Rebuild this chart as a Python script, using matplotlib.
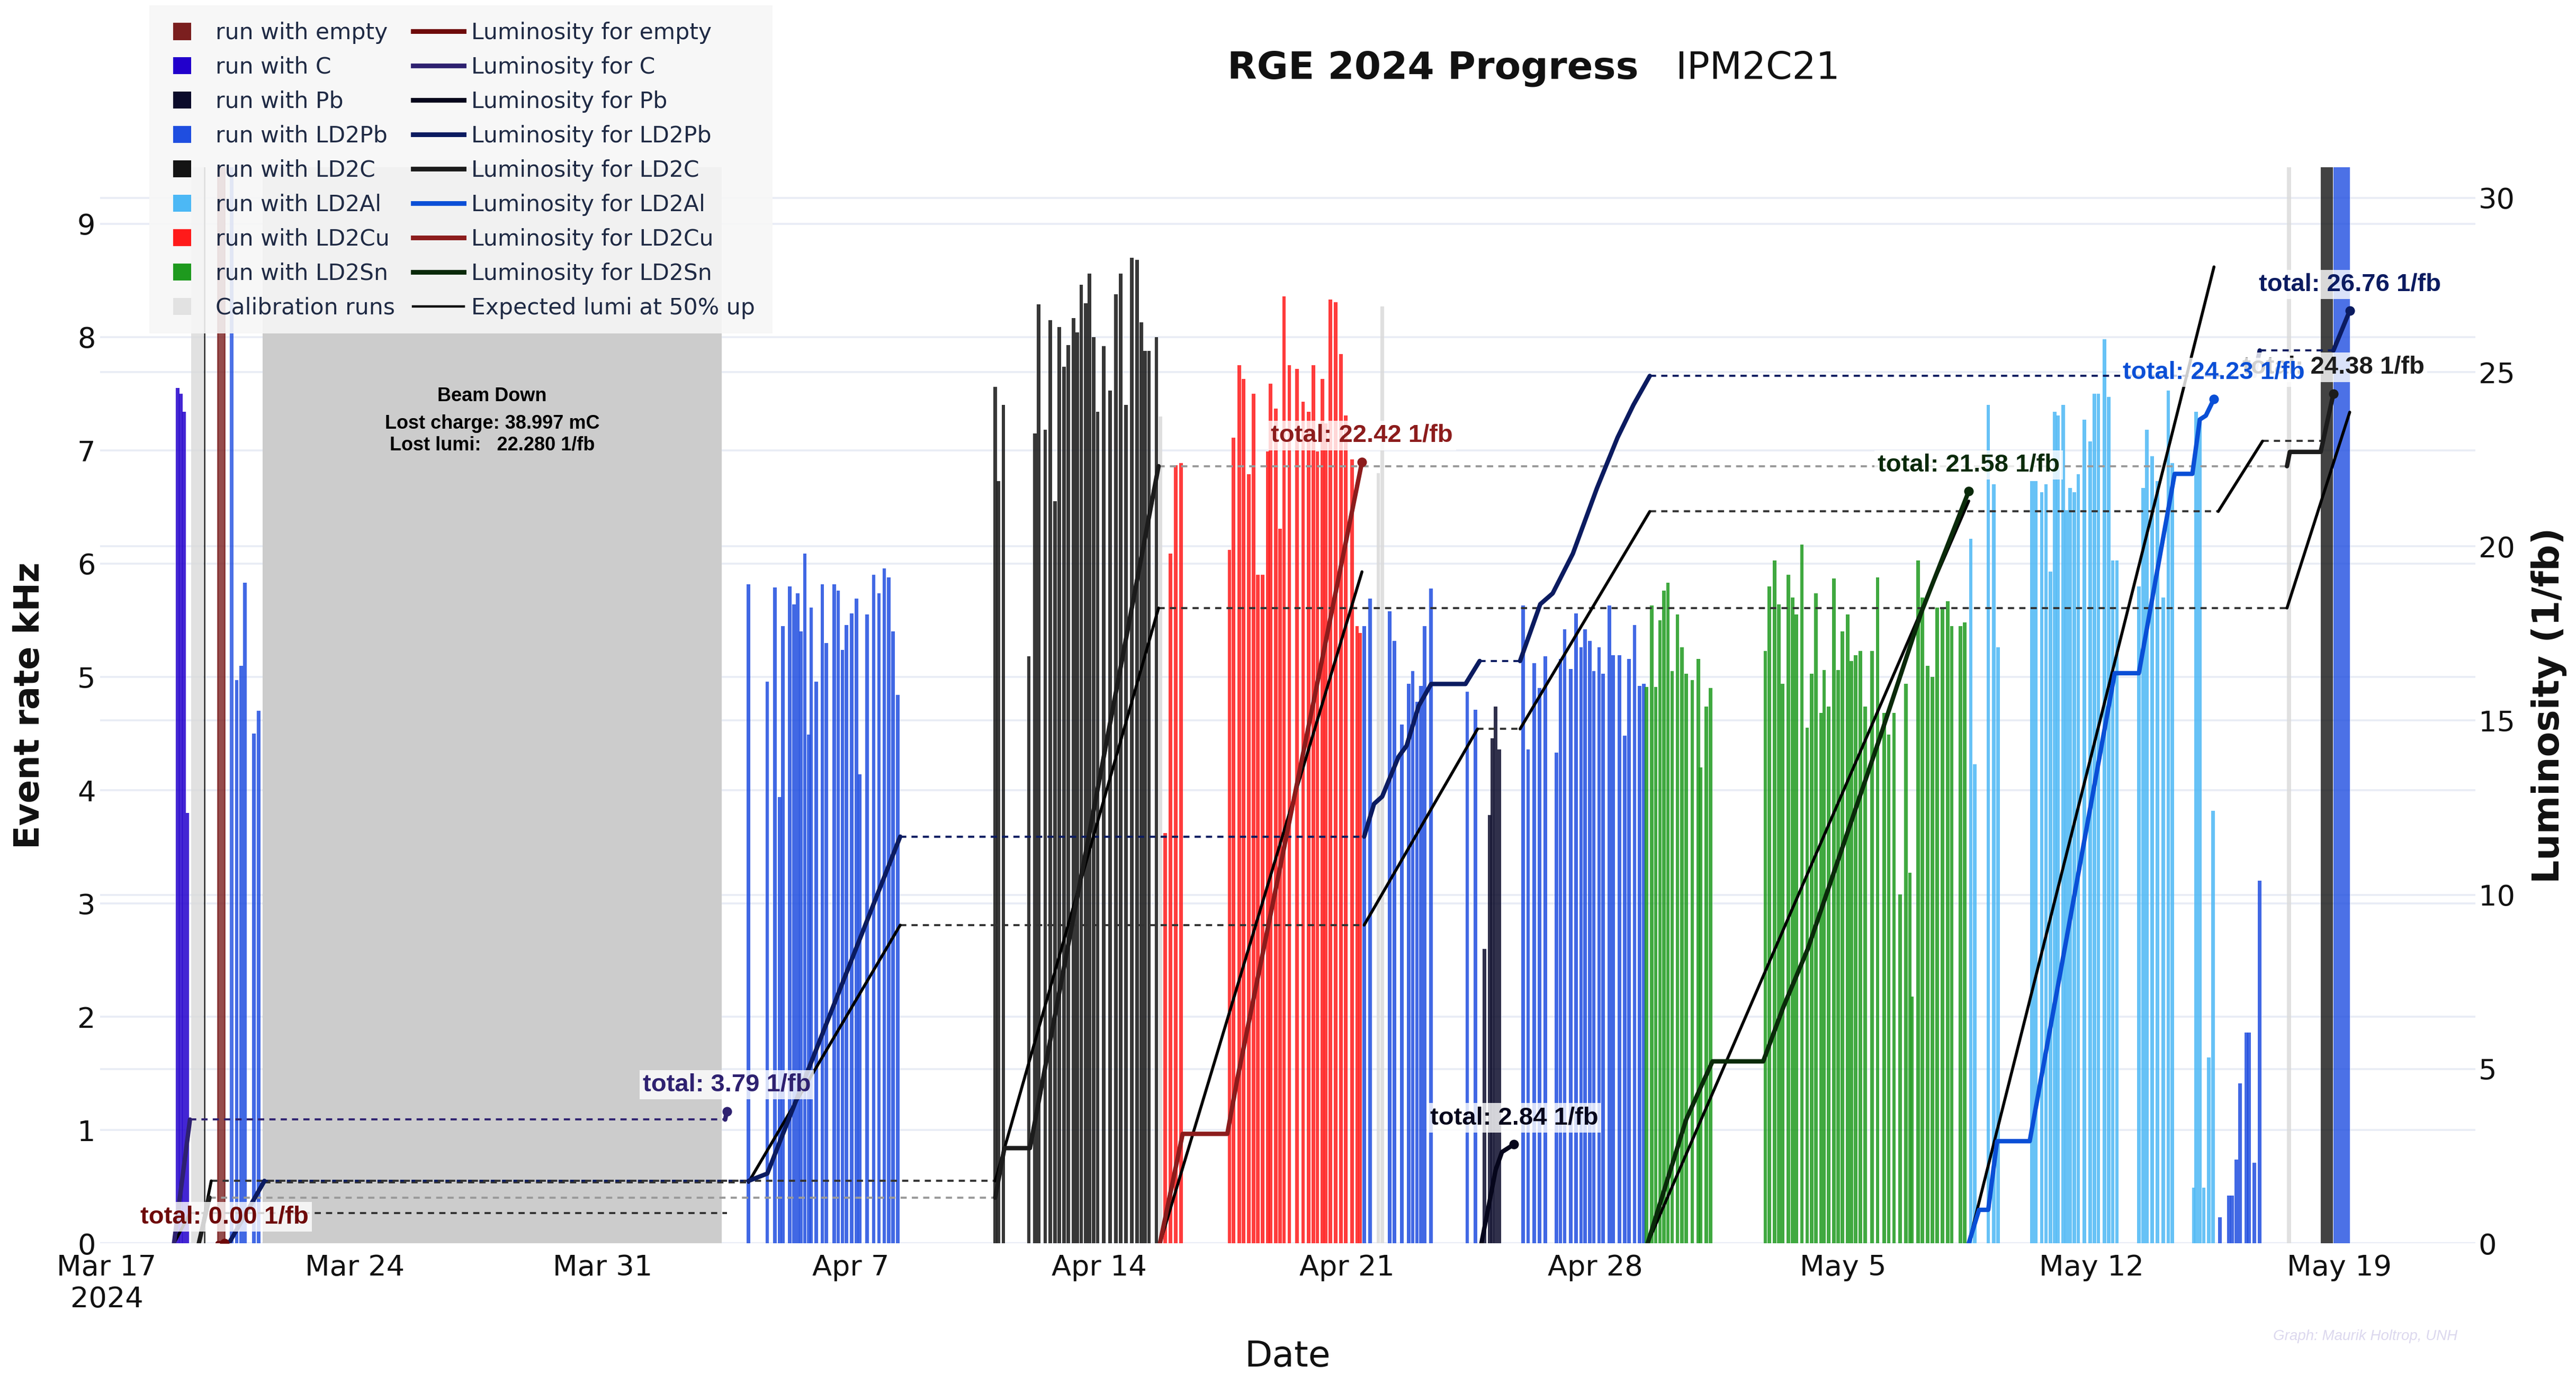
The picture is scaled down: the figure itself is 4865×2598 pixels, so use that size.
# -*- coding: utf-8 -*-
import numpy as np
import matplotlib
matplotlib.use("Agg")
import matplotlib.pyplot as plt
import matplotlib.dates as mdates
import matplotlib.transforms as mtransforms
from matplotlib.patches import Patch, Rectangle
from matplotlib.lines import Line2D
from matplotlib.ticker import FuncFormatter

# days are counted from the start of the run period
START = np.datetime64("2024-03-17")
X_RANGE = (-0.19, 66.84)
RATE_MAX = 9.5
LUMI_MAX = 30.88

BEAM_DOWN = (4.40, 17.35)
LOST_CHARGE = 38.997
LOST_LUMI = 22.280

# ---- runs: start day and event rate (kHz) ----
C_DAY = [2.00, 2.09, 2.18, 2.28]
C_RATE = [7.55, 7.50, 7.34, 3.80]

PB_DAY = [38.88, 39.02, 39.10, 39.19, 39.29]
PB_RATE = [2.60, 3.78, 4.46, 4.74, 4.36]

LD2PB_DAY = [3.67, 3.79, 3.90, 4.15, 4.29,
             18.11, 18.64, 18.85, 18.99, 19.08, 19.27, 19.39, 19.50, 19.59, 19.70,
             19.81, 19.88, 20.02, 20.19, 20.30, 20.53, 20.64, 20.76, 20.87, 21.02,
             21.16, 21.25, 21.45, 21.64, 21.79, 21.94, 22.07, 22.19, 22.32,
             35.48, 35.65, 36.20, 36.34, 36.54, 36.74, 36.85, 36.97, 37.08, 37.19,
             37.37, 38.39, 38.62, 39.97, 40.11, 40.28, 40.43, 40.59, 40.91, 41.02,
             41.14, 41.31, 41.46, 41.60, 41.71, 41.85, 41.96, 42.11, 42.22, 42.40,
             42.51, 42.68, 42.83, 42.95, 43.11, 43.25, 43.37,
             59.63, 59.88, 59.97, 60.09, 60.20, 60.37, 60.45, 60.60, 60.75]
LD2PB_RATE = [4.97, 5.10, 5.83, 4.50, 4.70,
              5.82, 4.96, 5.79, 3.94, 5.45, 5.80, 5.64, 5.74, 5.40, 6.09,
              4.49, 5.61, 4.96, 5.82, 5.30, 5.82, 5.76, 5.24, 5.46, 5.56,
              5.69, 4.14, 5.55, 5.90, 5.74, 5.96, 5.88, 5.40, 4.84,
              5.45, 5.69, 5.58, 5.32, 4.58, 4.94, 5.05, 4.78, 4.92, 5.45,
              5.78, 4.87, 4.71, 5.63, 4.36, 5.12, 4.90, 5.18, 4.33, 5.16,
              5.42, 5.07, 5.56, 5.26, 5.42, 5.32, 5.05, 5.26, 5.03, 5.63,
              5.19, 5.19, 4.48, 5.16, 5.46, 4.92, 4.94,
              0.23, 0.42, 0.42, 0.74, 1.41, 1.86, 1.86, 0.71, 3.20]

LD2C_DAY = [25.07, 25.16, 25.30, 26.02, 26.19, 26.30, 26.48, 26.62, 26.76, 26.88,
            27.01, 27.13, 27.28, 27.39, 27.50, 27.62, 27.73, 27.85, 27.96, 28.13,
            28.31, 28.48, 28.61, 28.76, 28.93, 29.07, 29.19, 29.30, 29.41, 29.62]
LD2C_RATE = [7.56, 6.73, 7.40, 5.18, 7.15, 8.29, 7.18, 8.15, 6.55, 8.09,
             7.74, 7.93, 8.17, 8.04, 8.46, 8.30, 8.56, 8.00, 7.34, 7.92,
             7.53, 8.38, 8.56, 7.40, 8.70, 8.68, 8.13, 7.88, 7.88, 8.00]

LD2CU_DAY = [29.87, 30.02, 30.17, 30.31, 31.68, 31.79, 31.96, 32.08, 32.23, 32.36,
             32.48, 32.62, 32.76, 32.84, 32.99, 33.11, 33.22, 33.37, 33.59, 33.76,
             33.91, 34.05, 34.16, 34.30, 34.39, 34.53, 34.68, 34.83, 34.96, 35.14,
             35.28, 35.36]
LD2CU_RATE = [3.62, 6.09, 6.87, 6.89, 6.12, 7.11, 7.75, 7.63, 6.79, 7.50,
              5.90, 5.90, 6.99, 7.59, 7.37, 6.31, 8.36, 7.75, 7.72, 7.43,
              7.34, 7.75, 6.99, 7.63, 7.24, 8.33, 8.31, 7.85, 7.31, 6.92,
              5.45, 5.39]

LD2SN_DAY = [43.45, 43.60, 43.71, 43.83, 43.94, 44.05, 44.17, 44.32, 44.45, 44.57,
             44.74, 44.91, 44.97, 45.14, 45.25,
             46.80, 46.91, 47.06, 47.18, 47.29, 47.45, 47.57, 47.68, 47.83, 47.98,
             48.11, 48.23, 48.37, 48.46, 48.59, 48.74, 48.86, 48.97, 49.12, 49.23,
             49.35, 49.48, 49.62, 49.81, 49.97, 50.16, 50.28, 50.43, 50.60, 50.77,
             50.88, 50.94, 51.11, 51.23, 51.38, 51.51, 51.65, 51.80, 51.95, 52.06,
             52.31, 52.43]
LD2SN_RATE = [4.91, 5.63, 4.91, 5.50, 5.76, 5.83, 5.05, 5.55, 5.26, 5.03,
              4.97, 5.16, 4.20, 4.74, 4.90,
              5.23, 5.80, 6.03, 5.64, 4.94, 5.90, 5.70, 5.55, 6.17, 4.55,
              5.03, 5.74, 4.68, 5.06, 4.74, 5.87, 5.06, 5.40, 5.55, 5.14,
              5.19, 5.23, 4.74, 5.23, 5.88, 4.68, 4.49, 4.68, 3.08, 4.94,
              3.27, 2.18, 6.03, 5.70, 5.10, 5.00, 5.61, 5.61, 5.67, 5.45,
              5.45, 5.48]

LD2AL_DAY = [52.60, 52.71, 53.09, 53.25, 53.37, 54.32, 54.43, 54.60, 54.72, 54.85,
             54.97, 55.06, 55.20, 55.29, 55.40, 55.52, 55.63, 55.80, 55.97, 56.09,
             56.20, 56.37, 56.49, 56.60, 56.72, 57.34, 57.46, 57.57, 57.71, 57.86,
             58.03, 58.17, 58.28, 58.89, 58.95, 59.06, 59.17, 59.31, 59.43]
LD2AL_RATE = [6.22, 4.23, 7.40, 6.70, 5.26, 6.73, 6.73, 6.63, 6.70, 5.93,
              7.34, 7.31, 7.40, 6.47, 6.67, 6.63, 6.79, 7.27, 7.08, 7.50,
              7.50, 7.98, 7.47, 6.03, 6.03, 5.80, 6.67, 7.18, 6.95, 6.73,
              5.70, 7.53, 6.89, 0.49, 7.34, 7.27, 0.49, 1.64, 3.82]

CALIB_DAY = [29.73, 35.88, 35.99]
CALIB_RATE = [7.30, 6.80, 8.27]

# long runs whose rate runs off the top of the scale
LONG_TARGET = ["calib", "LD2C", "empty", "LD2Pb", "calib", "LD2C", "LD2Pb"]
LONG_START = [2.38, 2.74, 3.13, 3.47, 61.52, 62.47, 62.83]
LONG_END = [2.72, 2.78, 3.33, 3.58, 61.63, 62.81, 63.29]
LONG_RATE = [11.0, 11.0, 11.0, 11.0, 11.0, 11.0, 11.0]

# ---- integrated luminosity (1/fb), nan separates running periods ----
nan = np.nan
LUMI_EMPTY_DAY = [3.13, 3.33]
LUMI_EMPTY = [0.0, 0.0]

LUMI_C_DAY = [1.90, 2.05, 2.35, nan, 17.45, 17.50]
LUMI_C = [0.0, 1.20, 3.55, nan, 3.55, 3.79]
EXP_C_DAY = [1.90, 2.35, nan, 17.50]
EXP_C = [0.0, 0.87, nan, 0.87]

LUMI_PB_DAY = [38.79, 39.19, 39.37, 39.71]
LUMI_PB = [0.0, 2.10, 2.62, 2.84]

LUMI_LD2PB_DAY = [3.45, 4.45, nan, 18.11, 18.64, 22.39, nan,
                  35.48, 35.76, 35.99, 36.45, 36.68, 37.02, 37.37, 38.34, 38.74, nan,
                  39.88, 40.45, 40.80, 41.37, 42.05, 42.63, 43.08, 43.54, nan,
                  60.60, 60.75, nan, 62.83, 63.29]
LUMI_LD2PB = [0.0, 1.79, nan, 1.79, 2.00, 11.67, nan,
              11.67, 12.61, 12.82, 13.96, 14.28, 15.42, 16.05, 16.05, 16.71, nan,
              16.71, 18.34, 18.65, 19.79, 21.67, 23.12, 24.06, 24.89, nan,
              24.89, 25.62, nan, 25.62, 26.76]
EXP_LD2PB_DAY = [3.45, 4.45, nan, 18.11, 22.39, nan, 35.48, 38.68, nan,
                 39.88, 43.54, nan, 59.58, 60.83, nan, 62.59]
EXP_LD2PB = [0.0, 1.75, nan, 1.75, 9.13, nan, 9.13, 14.76, nan,
             14.76, 21.00, nan, 21.00, 23.02, nan, 23.02]

LUMI_LD2C_DAY = [2.60, 2.90, nan, 25.07, 25.33, 26.05, 29.68, nan,
                 61.52, 61.60, 62.47, 62.83]
LUMI_LD2C = [0.0, 1.31, nan, 1.31, 2.73, 2.73, 22.30, nan,
             22.30, 22.71, 22.71, 24.38]
EXP_LD2C_DAY = [2.60, 2.95, nan, 25.07, 29.68, nan, 61.52, 63.29]
EXP_LD2C = [0.0, 1.79, nan, 1.79, 18.23, nan, 18.23, 23.85]

LUMI_LD2CU_DAY = [29.72, 30.36, 31.62, 31.90, 35.42]
LUMI_LD2CU = [0.0, 3.14, 3.14, 4.70, 22.42]
EXP_LD2CU_DAY = [29.72, 35.42]
EXP_LD2CU = [0.0, 19.27]

LUMI_LD2SN_DAY = [43.48, 44.57, 45.31, 46.74, 47.31, 48.00, 50.03, 51.20, 52.54]
LUMI_LD2SN = [0.0, 3.56, 5.22, 5.22, 6.78, 8.45, 14.50, 18.10, 21.58]
EXP_LD2SN_DAY = [43.48, 52.54]
EXP_LD2SN = [0.0, 21.30]

LUMI_LD2AL_DAY = [52.54, 52.83, 53.09, 53.34, 54.26, 56.66, 57.34, 58.35, 58.85,
                  59.06, 59.23, 59.46]
LUMI_LD2AL = [0.0, 0.96, 0.96, 2.93, 2.93, 16.36, 16.36, 22.08, 22.08,
              23.64, 23.75, 24.23]
EXP_LD2AL_DAY = [52.54, 59.46]
EXP_LD2AL = [0.0, 28.02]

# ---- styles ----
BAR_COLOR = {"empty": "#7b1f1f", "C": "#2200cc", "Pb": "#0b0b2b", "LD2Pb": "#1f4ee0",
             "LD2C": "#141414", "LD2Al": "#4cb8f5", "LD2Cu": "#ff1a1a",
             "LD2Sn": "#1e9a1e", "calib": "#dadada"}
LUMI_COLOR = {"empty": "#6e0a0a", "C": "#2e2170", "Pb": "#06061c", "LD2Pb": "#0b1b60",
              "LD2C": "#1c1c1c", "LD2Al": "#0a4fd6", "LD2Cu": "#8c1c1c",
              "LD2Sn": "#0a2a0a"}
DASH_COLOR = dict(LUMI_COLOR, LD2C="#9a9a9a")
TEXT = "#1f2a44"
BAR_W = 0.10
DASH = (0, (3, 2.5))

EPOCH = mdates.date2num(START)

plt.rcParams["font.family"] = "DejaVu Sans"
fig = plt.figure(figsize=(24.325, 12.99), dpi=200)
ax = fig.add_axes([0.0388, 0.0958, 0.9222, 0.7826])
ax2 = ax.twinx()

ax.set_xlim(EPOCH + X_RANGE[0], EPOCH + X_RANGE[1])
ax.set_ylim(0, RATE_MAX)
ax2.set_ylim(0, LUMI_MAX)

# grid lines of both scales, kept under the bars
grid_kw = dict(color="#e8ecf5", lw=1.3, zorder=0.2)
for v in range(0, 10):
    ax.axhline(v, **grid_kw)
right_tr = mtransforms.blended_transform_factory(ax.transAxes, ax2.transData)
for v in range(0, 31, 5):
    ax.plot([0, 1], [v, v], transform=right_tr, **grid_kw)

ax.axvspan(EPOCH + BEAM_DOWN[0], EPOCH + BEAM_DOWN[1], color="#cccccc", lw=0, zorder=0.5)
mid = EPOCH + (BEAM_DOWN[0] + BEAM_DOWN[1]) / 2
ax.text(mid, 7.48, "Beam Down", ha="center", va="center", fontsize=13,
        fontweight="bold", family="Liberation Sans", zorder=2)
ax.text(mid, 7.14, "Lost charge: {0:.3f} mC\nLost lumi:   {1:.3f} 1/fb".format(LOST_CHARGE, LOST_LUMI),
        ha="center", va="center", fontsize=13, fontweight="bold",
        family="Liberation Sans", linespacing=1.2, zorder=2)


def draw_runs(days, rates, key):
    ax.bar(EPOCH + np.asarray(days), rates, width=BAR_W, color=BAR_COLOR[key],
           alpha=0.85, lw=0, zorder=1)


draw_runs(C_DAY, C_RATE, "C")
draw_runs(PB_DAY, PB_RATE, "Pb")
draw_runs(LD2PB_DAY, LD2PB_RATE, "LD2Pb")
draw_runs(LD2C_DAY, LD2C_RATE, "LD2C")
draw_runs(LD2CU_DAY, LD2CU_RATE, "LD2Cu")
draw_runs(LD2SN_DAY, LD2SN_RATE, "LD2Sn")
draw_runs(LD2AL_DAY, LD2AL_RATE, "LD2Al")
draw_runs(CALIB_DAY, CALIB_RATE, "calib")

for key, t0, t1, r in zip(LONG_TARGET, LONG_START, LONG_END, LONG_RATE):
    ax.bar(EPOCH + t0, r, width=t1 - t0, align="edge", color=BAR_COLOR[key],
           alpha=0.8, lw=1.0 if key == "empty" else 0, edgecolor=BAR_COLOR[key], zorder=1)


def split_pieces(days, vals):
    days = np.asarray(days, dtype=float)
    vals = np.asarray(vals, dtype=float)
    cut = np.flatnonzero(np.isnan(days))
    out = []
    for d, v in zip(np.split(days, cut), np.split(vals, cut)):
        keep = ~np.isnan(d)
        out.append((d[keep], v[keep]))
    return out


def draw_track(days, vals, color, dash_color, lw):
    pieces = split_pieces(days, vals)
    for d, v in pieces:
        ax2.plot(EPOCH + d, v, color=color, lw=lw, solid_capstyle="round",
                 solid_joinstyle="round", zorder=3)
    # idle periods carry the last value forward
    for (d0, v0), (d1, v1) in zip(pieces[:-1], pieces[1:]):
        ax2.plot(EPOCH + np.array([d0[-1], d1[0]]), [v0[-1], v0[-1]], color=dash_color,
                 lw=1.4, ls=DASH, zorder=2.5)
    return pieces[-1][0][-1], pieces[-1][1][-1]


tracks = [
    ("empty", LUMI_EMPTY_DAY, LUMI_EMPTY, None, None),
    ("C", LUMI_C_DAY, LUMI_C, EXP_C_DAY, EXP_C),
    ("Pb", LUMI_PB_DAY, LUMI_PB, None, None),
    ("LD2Pb", LUMI_LD2PB_DAY, LUMI_LD2PB, EXP_LD2PB_DAY, EXP_LD2PB),
    ("LD2C", LUMI_LD2C_DAY, LUMI_LD2C, EXP_LD2C_DAY, EXP_LD2C),
    ("LD2Cu", LUMI_LD2CU_DAY, LUMI_LD2CU, EXP_LD2CU_DAY, EXP_LD2CU),
    ("LD2Sn", LUMI_LD2SN_DAY, LUMI_LD2SN, EXP_LD2SN_DAY, EXP_LD2SN),
    ("LD2Al", LUMI_LD2AL_DAY, LUMI_LD2AL, EXP_LD2AL_DAY, EXP_LD2AL),
]

ends = []
for key, ld, lv, ed, ev in tracks:
    if ed is not None:
        draw_track(ed, ev, "#000000", "#333333", 2.0)
    ends.append((key, draw_track(ld, lv, LUMI_COLOR[key], DASH_COLOR[key], 3.0)))

for key, (d_end, v_end) in ends:
    ax2.plot(EPOCH + d_end, v_end, "o", ms=5.5, color=LUMI_COLOR[key], zorder=4)
    ax2.annotate("total: {0:.2f} 1/fb".format(v_end), xy=(EPOCH + d_end, v_end),
                 xytext=(0, 18), textcoords="offset points", ha="center", va="center",
                 fontsize=17, fontweight="bold", family="Liberation Sans",
                 color=LUMI_COLOR[key], zorder=5,
                 bbox=dict(boxstyle="square,pad=0.12", fc="white", ec="none", alpha=0.8))

# axes cosmetics
for a in (ax, ax2):
    for s in a.spines.values():
        s.set_visible(False)
ax.set_yticks(range(0, 10))
ax2.set_yticks(range(0, 31, 5))
ax.tick_params(axis="y", length=0, labelsize=19.5, pad=3, labelcolor="#111111")
ax2.tick_params(axis="y", length=0, labelsize=19.5, pad=2, labelcolor="#111111")
ax.tick_params(axis="x", length=0, labelsize=19.5, pad=7, labelcolor="#111111")

ax.xaxis.set_major_locator(mdates.WeekdayLocator(byweekday=mdates.SU))


def date_label(x, pos):
    dt = mdates.num2date(x)
    text = "{0:%b} {1}".format(dt, dt.day)
    if abs(x - EPOCH) < 1e-6:
        text += "\n{0}".format(dt.year)
    return text


ax.xaxis.set_major_formatter(FuncFormatter(date_label))

ax.set_ylabel("Event rate kHz", fontsize=23.5, fontweight="bold", color="#111111")
ax.yaxis.label.set_va("center")
ax.yaxis.set_label_coords(-0.0296, 0.5)
ax2.set_ylabel("Luminosity (1/fb)", fontsize=25, fontweight="bold", color="#111111", rotation=90)
ax2.yaxis.label.set_va("center")
ax2.yaxis.set_label_coords(1.031, 0.5)
ax.set_xlabel("Date", fontsize=24.5, color="#111111")
ax.xaxis.label.set_va("center")
ax.xaxis.set_label_coords(0.5, -0.105)

fig.text(0.5562, 0.95, "RGE 2024 Progress", ha="center", va="center",
         fontsize=26, fontweight="bold", color="#111111")
fig.text(0.6505, 0.95, "IPM2C21", ha="left", va="center", fontsize=25.5, color="#111111")

fig.text(0.954, 0.028, "Graph: Maurik Holtrop, UNH", ha="right", va="center", fontsize=10,
         style="italic", family="Liberation Sans", color="#dcd8ee")

# legend: run swatches on the left column, luminosity lines on the right
names = ["empty", "C", "Pb", "LD2Pb", "LD2C", "LD2Al", "LD2Cu", "LD2Sn"]
bar_handles = [Patch(facecolor=BAR_COLOR[n], edgecolor="none") for n in names]
bar_handles.append(Patch(facecolor="#e2e2e2", edgecolor="none"))
bar_labels = ["run with " + n for n in names] + ["Calibration runs"]
line_handles = [Line2D([], [], color=LUMI_COLOR[n], lw=3.2) for n in names]
line_handles.append(Line2D([], [], color="#000000", lw=1.6))
line_labels = ["Luminosity for " + n for n in names] + ["Expected lumi at 50% up"]

fig.patches.append(Rectangle((0.058, 0.7575), 0.2419, 0.2385, transform=fig.transFigure,
                             facecolor="#f7f7f7", alpha=0.88, edgecolor="none", zorder=4.5))
leg_kw = dict(loc="upper left", bbox_transform=fig.transFigure, frameon=False, borderpad=0,
              labelspacing=0.54, fontsize=15.3, labelcolor=TEXT, borderaxespad=0)
leg1 = fig.legend(bar_handles, bar_labels, bbox_to_anchor=(0.0672, 0.9842),
                  handlelength=0.8, handleheight=0.8, handletextpad=1.08, **leg_kw)
leg2 = fig.legend(line_handles, line_labels, bbox_to_anchor=(0.1603, 0.9842),
                  handlelength=2.26, handletextpad=0.33, **leg_kw)
leg1.set_zorder(5)
leg2.set_zorder(5)

fig.savefig("out.png", dpi=200, facecolor="white")
